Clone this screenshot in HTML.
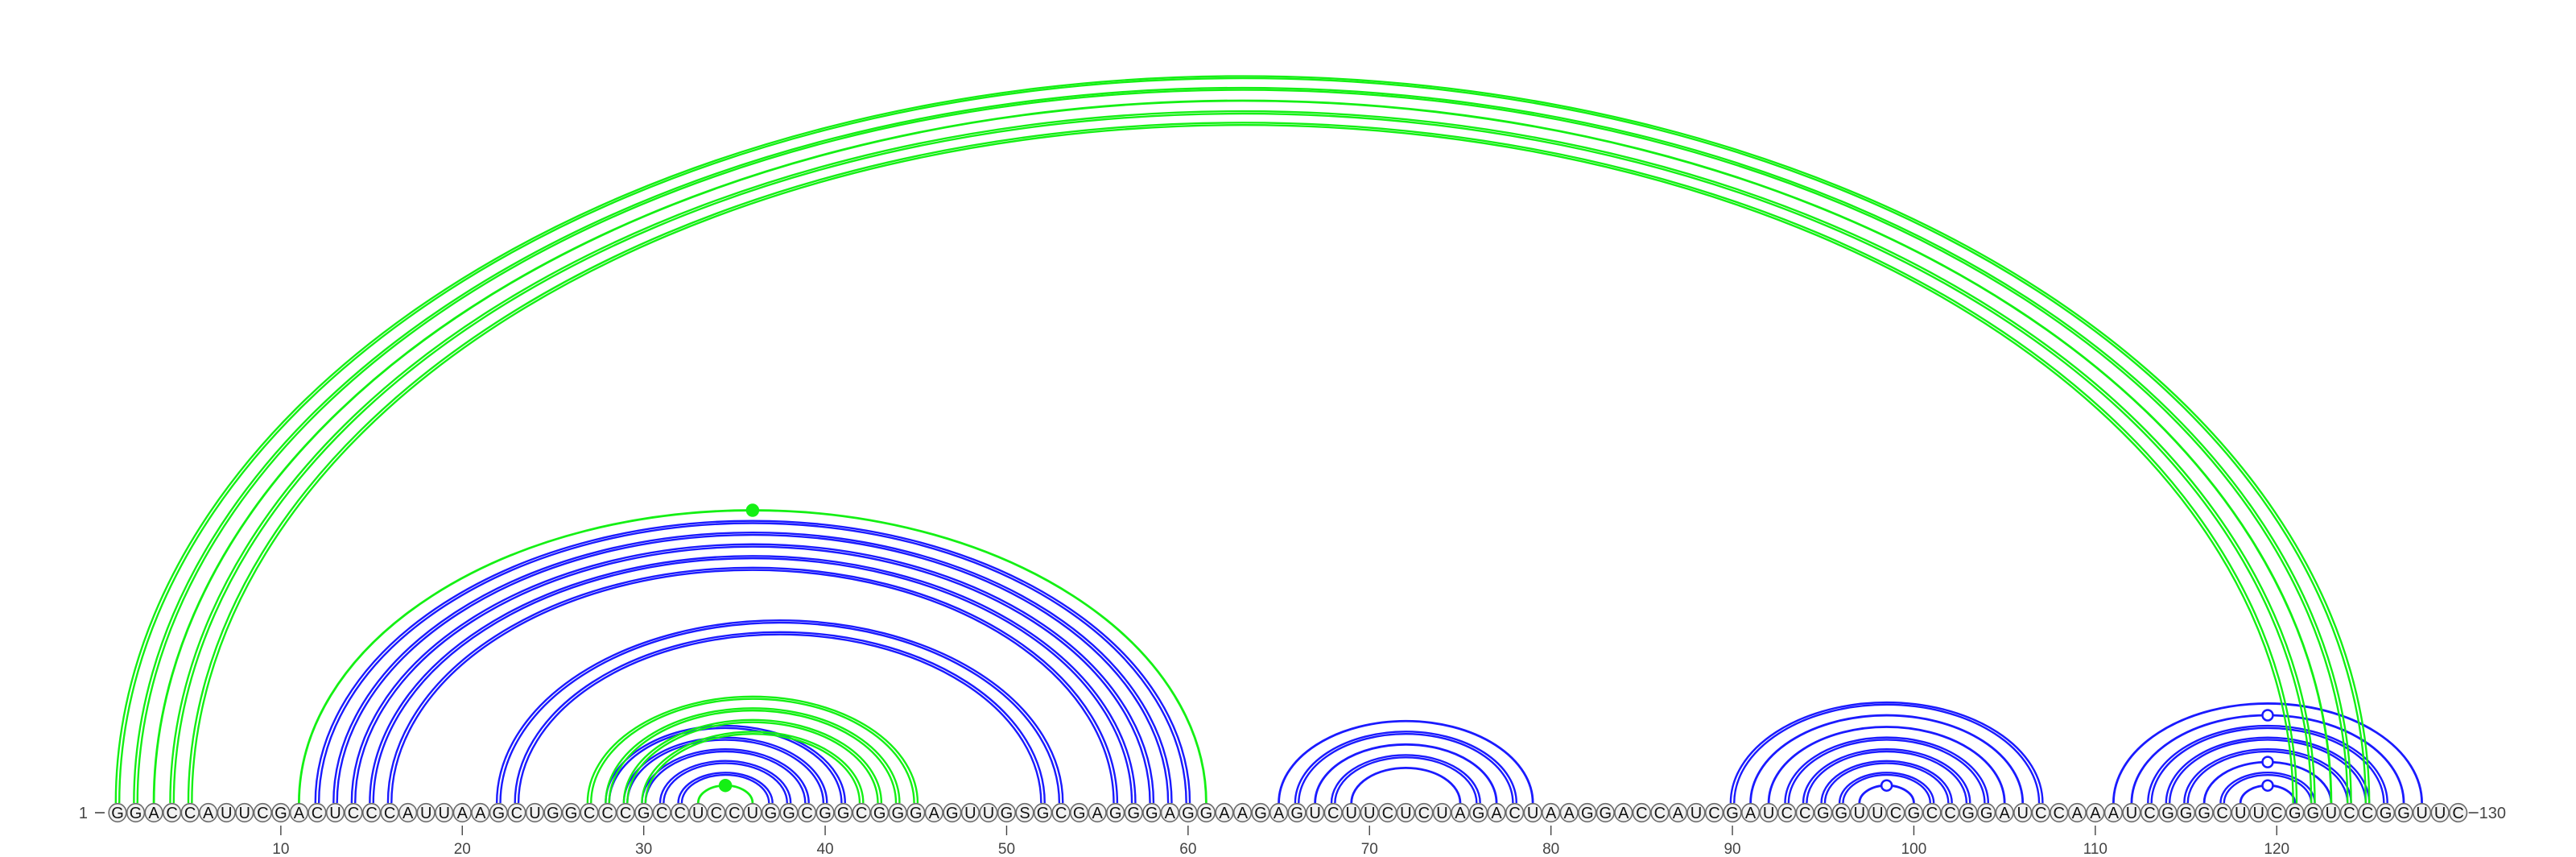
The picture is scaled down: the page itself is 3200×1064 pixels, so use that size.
<!DOCTYPE html>
<html><head><meta charset="utf-8">
<style>
html,body{margin:0;padding:0;background:#fff;}
svg{display:block;}
text{font-family:"Liberation Sans","DejaVu Sans",sans-serif;}
</style></head>
<body>
<svg id="chart" width="3200" height="1064" viewBox="0 0 3200 1064" xmlns="http://www.w3.org/2000/svg">
<g id="arcs"></g>
<g id="markers"></g>
<g id="nts"></g>
<g id="axis"></g>
</svg>
<script>
const sequence = "GGACCAUUCGACUCCCAUUAAGCUGGCCCGCCUCCUGGCGGCGGGAGUUGSGCGAGGGAGGAAGAGUCUUCUCUAGACUAAGGACCAUCGAUCCGGUUCGCCGGAUCCAAAUCGGGCUUCGGUCCGGUUC";
const greenPairs = [[1,125],[2,124],[3,123],[4,122],[5,121],[11,61],[27,45],[28,44],[29,43],[30,42],[33,36]];
const greenDouble = [1,1,0,1,1,0,1,1,1,1,0];
const greenMarker = [0,0,0,0,0,1,0,0,0,0,1];
const bluePairs = [[12,60],[13,59],[14,58],[15,57],[16,56],[22,53],[23,52],[28,41],[29,40],[30,39],[31,38],[32,37],
  [65,79],[66,78],[67,77],[68,76],[69,75],
  [90,107],[91,106],[92,105],[93,104],[94,103],[95,102],[96,101],[97,100],
  [111,128],[112,127],[113,126],[114,125],[115,124],[116,123],[117,122],[118,121]];
const blueDouble = [1,1,1,1,1,1,1,1,1,1,1,1, 0,1,0,1,0, 1,0,0,1,1,1,1,0, 0,0,1,1,1,0,1,0];
const blueMarker = [0,0,0,0,0,0,0,0,0,0,0,0, 0,0,0,0,0, 0,0,0,0,0,0,0,1, 0,1,0,0,0,1,0,1];
const tickValues = [10,20,30,40,50,60,70,80,90,100,110,120];

const NS = "http://www.w3.org/2000/svg";
const X0 = 146, DX = 22.54, BASE = 997, CY = 1009, RATIO = 0.645;
function xScale(i){ return X0 + (i-1)*DX; }
function mk(tag, attrs, parent){
  const e = document.createElementNS(NS, tag);
  for (const k in attrs) e.setAttribute(k, attrs[k]);
  parent.appendChild(e); return e;
}
const arcsG = document.getElementById('arcs');
const markG = document.getElementById('markers');
const ntG = document.getElementById('nts');
const axG = document.getElementById('axis');

function arcPath(a, b, off){
  const cx = (xScale(a)+xScale(b))/2;
  const r = (xScale(b)-xScale(a))/2 + off;
  const ry = r*RATIO;
  return `M${cx-r},${BASE} A${r},${ry} 0 0 1 ${cx+r},${BASE}`;
}
function drawSet(pairs, dbl, mkr, color, name){
  pairs.forEach((p, k) => {
    const offs = dbl[k] ? [-2.2, 2.2] : [0];
    offs.forEach(o => {
      const e = mk('path', {d: arcPath(p[0], p[1], o), fill:'none', stroke: color, 'stroke-width': dbl[k] ? 2.4 : 2.8}, arcsG);
      
      
    });
    if (mkr[k]) {
      const cx = (xScale(p[0])+xScale(p[1]))/2;
      const r = (xScale(p[1])-xScale(p[0]))/2;
      const top = BASE - r*RATIO;
      const filled = color !== '#1a1aff';
      const c = mk('circle', {cx: cx, cy: top, r: filled ? 7 : 6.5, fill: filled ? color : '#fff', stroke: color, 'stroke-width': 2.5}, markG);
      
      
    }
  });
}
drawSet(bluePairs, blueDouble, blueMarker, '#1a1aff', 'blue');
drawSet(greenPairs, greenDouble, greenMarker, '#14f014', 'green');

for (let i = 1; i <= sequence.length; i++) {
  const g = mk('g', {}, ntG);
  
  
  mk('ellipse', {cx: xScale(i), cy: CY, rx: 10.8, ry: 11.3, fill:'#f2f2f2', stroke:'#6a6a6a', 'stroke-width':1.6}, g);
  const t = mk('text', {x: xScale(i), y: CY+7, 'text-anchor':'middle', 'font-size':20, fill:'#111'}, g);
  t.textContent = sequence[i-1];
}
const startLbl = mk('text', {x: 109, y: CY+7, 'text-anchor':'end', 'font-size':20, fill:'#444'}, axG);
startLbl.textContent = '1';


mk('line', {x1:118, x2:130, y1:CY, y2:CY, stroke:'#444', 'stroke-width':1.6}, axG);
const endLbl = mk('text', {x: xScale(130)+26, y: CY+7, 'text-anchor':'start', 'font-size':20, fill:'#444'}, axG);
endLbl.textContent = '130';


mk('line', {x1:xScale(130)+13, x2:xScale(130)+25, y1:CY, y2:CY, stroke:'#444', 'stroke-width':1.6}, axG);
tickValues.forEach(v => {
  const l = mk('line', {x1:xScale(v), x2:xScale(v), y1:1025, y2:1037, stroke:'#444', 'stroke-width':1.4}, axG);
  
  
  const t = mk('text', {x:xScale(v), y:1060, 'text-anchor':'middle', 'font-size':19, fill:'#444'}, axG);
  t.textContent = v;
  
  
});
</script>
</body></html>
